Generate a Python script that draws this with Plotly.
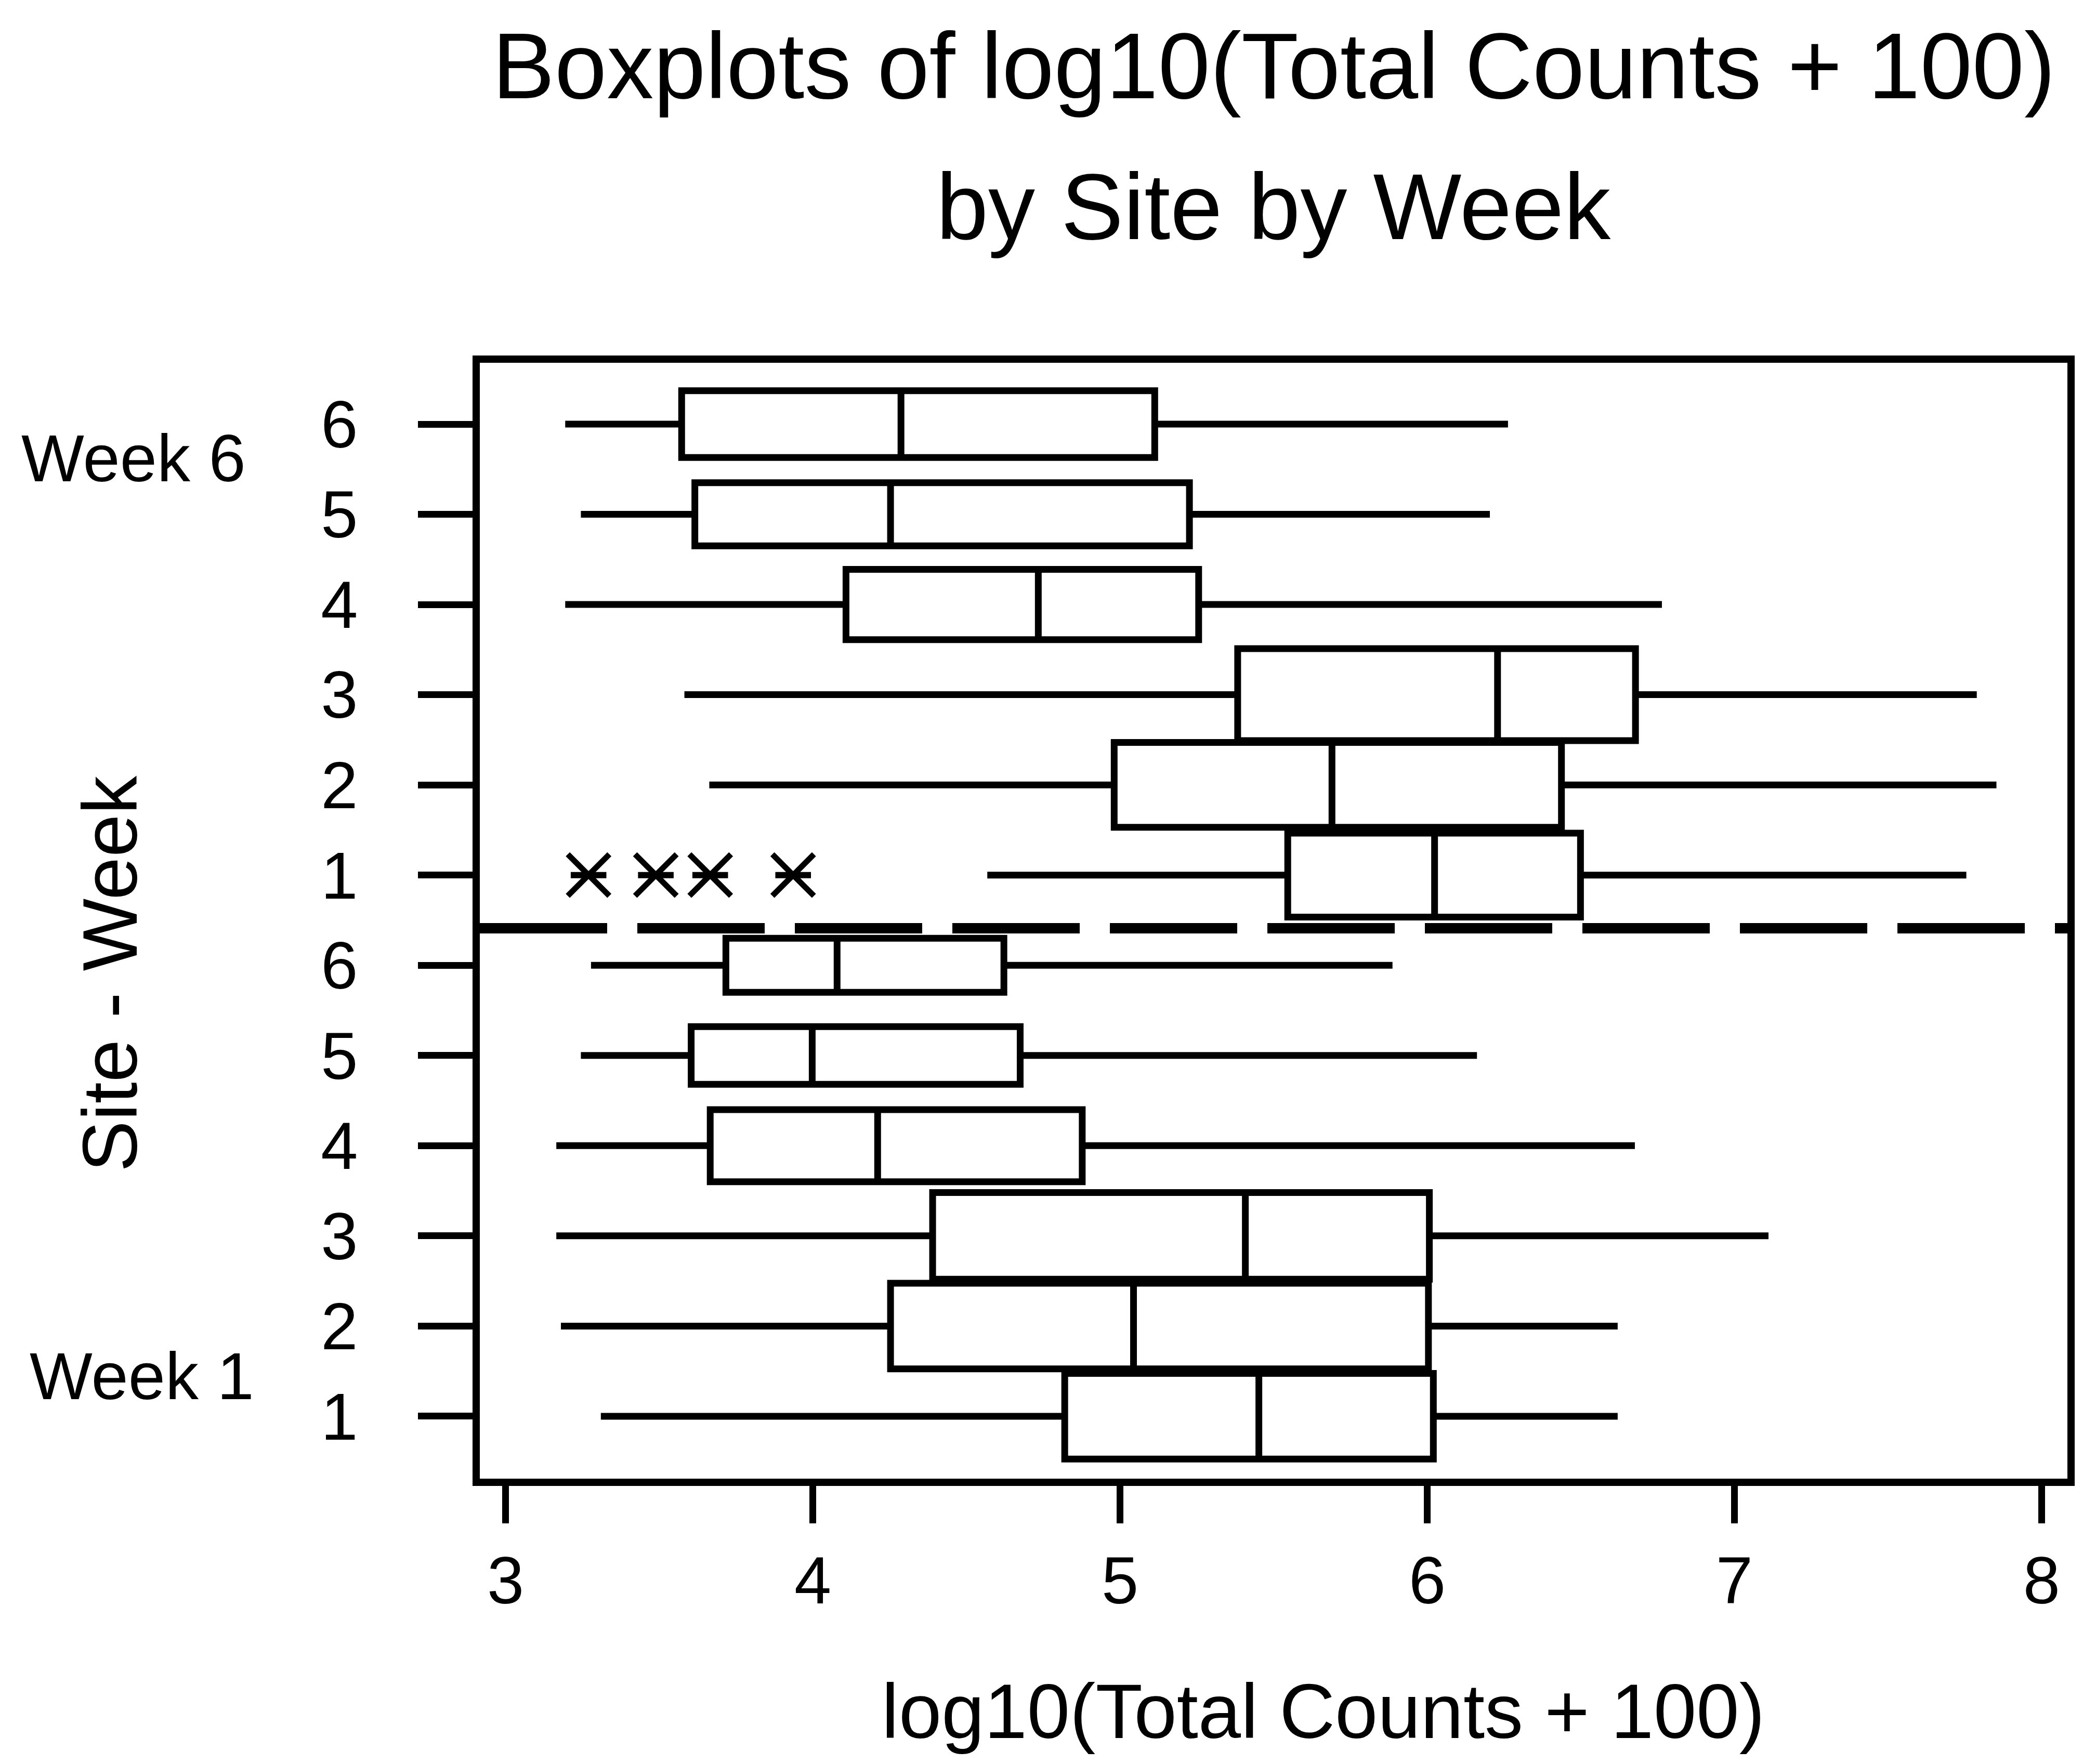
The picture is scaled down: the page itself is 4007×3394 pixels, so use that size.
import plotly.graph_objects as go

# ---- data ----
ROW_POS = [1, 2, 3, 4, 5, 6, 7, 8, 9, 10, 11, 12]
ROW_LABELS = ["1", "2", "3", "4", "5", "6", "1", "2", "3", "4", "5", "6"]
LOWER = [3.31, 3.18, 3.165, 3.165, 3.245, 3.278, 4.568, 3.663, 3.582, 3.194, 3.245, 3.194]
Q1 = [4.82, 4.253, 4.39, 3.666, 3.604, 3.717, 5.546, 4.981, 5.383, 4.108, 3.616, 3.573]
MEDIAN = [5.452, 5.044, 5.408, 4.211, 3.998, 4.079, 6.024, 5.690, 6.229, 4.734, 4.253, 4.287]
Q3 = [6.02, 6.004, 6.007, 4.877, 4.675, 4.622, 6.499, 6.437, 6.678, 5.256, 5.226, 5.113]
UPPER = [6.62, 6.62, 7.111, 6.676, 6.162, 5.887, 7.755, 7.853, 7.789, 6.764, 6.204, 6.263]
OUTLIER_X = [3.270, 3.489, 3.666, 3.936]
OUTLIER_ROW = [7, 7, 7, 7]
X_TICKS = [3, 4, 5, 6, 7, 8]
DIVIDER = 6.41

# ---- style ----
BOX_HEIGHTS = [0.95, 0.95, 0.96, 0.80, 0.64, 0.60, 0.93, 0.94, 1.02, 0.78, 0.70, 0.74]
FONT = "Arial, Liberation Sans, sans-serif"
LW = 13
STAR_ARM = 0.058   # half-length of the asterisk's horizontal arm (x units)

fig = go.Figure()
for i in range(len(ROW_POS)):
    fig.add_trace(go.Box(
        orientation="h",
        y=[ROW_POS[i]],
        q1=[Q1[i]], median=[MEDIAN[i]], q3=[Q3[i]],
        lowerfence=[LOWER[i]], upperfence=[UPPER[i]],
        width=BOX_HEIGHTS[i],
        whiskerwidth=0,
        boxpoints=False,
        fillcolor="white",
        line=dict(color="black", width=LW),
        showlegend=False,
        hoverinfo="skip",
    ))

# outliers drawn as six-armed asterisks (X marker + horizontal bar)
fig.add_trace(go.Scatter(
    x=OUTLIER_X, y=OUTLIER_ROW, mode="markers",
    marker=dict(symbol="x-thin-open", size=80, color="black",
                line=dict(color="black", width=11)),
    error_x=dict(type="constant", value=STAR_ARM, symmetric=True,
                 color="black", thickness=12, width=0),
    showlegend=False, hoverinfo="skip",
))

fig.add_shape(type="line", xref="paper", x0=0, x1=1, yref="y",
              y0=DIVIDER, y1=DIVIDER,
              line=dict(color="black", width=20, dash="245px,58px"),
              layer="above")

fig.add_annotation(text="Boxplots of log10(Total Counts + 100)",
                   xref="paper", yref="paper", x=0.5, y=1.266,
                   xanchor="center", yanchor="middle", showarrow=False,
                   font=dict(size=180, color="black", family=FONT))
fig.add_annotation(text="by Site by Week",
                   xref="paper", yref="paper", x=0.5, y=1.140,
                   xanchor="center", yanchor="middle", showarrow=False,
                   font=dict(size=180, color="black", family=FONT))
fig.add_annotation(text="Week 6", xref="paper", yref="y",
                   x=(249 - 915) / 3054, y=12 - (873 - 808) / 173.5,
                   xanchor="center", yanchor="middle", showarrow=False,
                   font=dict(size=128, color="black", family=FONT))
fig.add_annotation(text="Week 1", xref="paper", yref="y",
                   x=(265 - 915) / 3054, y=1 + (2717 - 2640) / 173.5,
                   xanchor="center", yanchor="middle", showarrow=False,
                   font=dict(size=128, color="black", family=FONT))
# axis titles
fig.add_annotation(text="log10(Total Counts + 100)", xref="paper", yref="paper",
                   x=0.5314, y=-0.2083, xanchor="center", yanchor="middle",
                   showarrow=False, font=dict(size=148, color="black", family=FONT))
fig.add_annotation(text="Site - Week", xref="paper", yref="paper",
                   x=-0.2328, y=0.4523, xanchor="center", yanchor="middle",
                   textangle=-90, showarrow=False,
                   font=dict(size=148, color="black", family=FONT))

fig.update_layout(
    width=4007, height=3394,
    margin=dict(l=915, r=38, t=690, b=557),
    paper_bgcolor="white", plot_bgcolor="white",
    font=dict(family=FONT, color="black", size=125),
    boxmode="overlay",
    xaxis=dict(
        range=[2.916, 8.084], tickvals=X_TICKS,
        ticks="outside", ticklen=72, tickwidth=LW, tickcolor="black",
        ticklabelstandoff=0,
        showline=True, linecolor="black", linewidth=14, mirror=True,
        showgrid=False, zeroline=False,
        tickfont=dict(size=128),
    ),
    yaxis=dict(
        range=[0.308, 12.68], tickvals=ROW_POS, ticktext=ROW_LABELS,
        ticks="outside", ticklen=105, tickwidth=LW, tickcolor="black",
        ticklabelstandoff=90,
        showline=True, linecolor="black", linewidth=14, mirror=True,
        showgrid=False, zeroline=False,
        tickfont=dict(size=128),
    ),
)

fig.write_html("out.html")
